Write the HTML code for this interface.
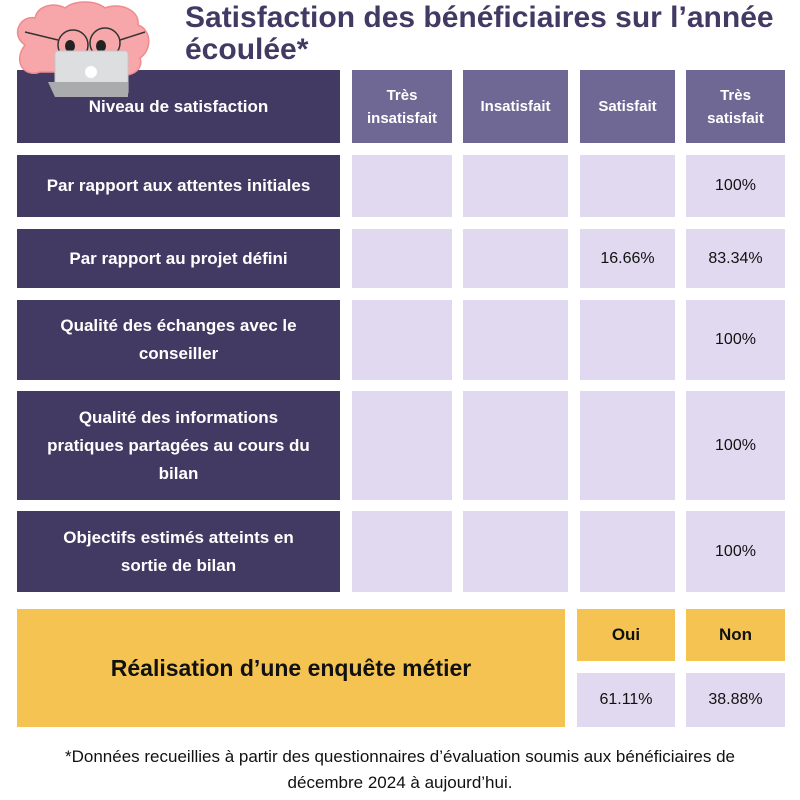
<!DOCTYPE html>
<html><head><meta charset="utf-8"><style>
body{margin:0;width:800px;height:800px;background:#fff;position:relative;overflow:hidden;font-family:"Liberation Sans",sans-serif}
.c{position:absolute;display:flex;align-items:center;justify-content:center;text-align:center;box-sizing:border-box}
.d{background:#433a64;color:#fff;font-weight:bold;font-size:17px;line-height:28px}
.h{background:#6f6794;color:#fff;font-weight:bold;font-size:15px;line-height:23px}
.l{background:#e1d9ef;color:#111;font-size:16px}
.y{background:#f4c352;color:#111;font-weight:bold}
</style></head><body>
<div style="position:absolute;left:185px;top:2px;width:610px;color:#433a64;font-weight:bold;font-size:30px;line-height:32px">Satisfaction des bénéficiaires sur l’année écoulée*</div>

<div class="c d" style="left:17px;top:70px;width:323px;height:73px">Niveau de satisfaction</div>
<div class="c h" style="left:352px;top:70px;width:100px;height:73px">Très<br>insatisfait</div>
<div class="c h" style="left:463px;top:70px;width:105px;height:73px">Insatisfait</div>
<div class="c h" style="left:580px;top:70px;width:95px;height:73px">Satisfait</div>
<div class="c h" style="left:686px;top:70px;width:99px;height:73px">Très<br>satisfait</div>

<svg style="position:absolute;left:0;top:0" width="160" height="110">
<path d="M25,45 C10,35 20,15 35,18 C38,5 55,2 65,8 C75,0 95,0 105,8 C120,2 140,10 138,25 C152,30 152,50 140,58 C145,72 125,80 115,72 L40,72 C25,78 12,62 25,45Z" fill="#f7a7a9" stroke="#f08a8e" stroke-width="1.5"/>
<circle cx="73" cy="45" r="15" fill="none" stroke="#333" stroke-width="1.5"/>
<circle cx="105" cy="43" r="15" fill="none" stroke="#333" stroke-width="1.5"/>
<line x1="58" y1="40" x2="25" y2="32" stroke="#333" stroke-width="1.5"/>
<line x1="120" y1="40" x2="145" y2="32" stroke="#333" stroke-width="1.5"/>
<ellipse cx="70" cy="46" rx="5" ry="6" fill="#222"/>
<ellipse cx="101" cy="46" rx="5" ry="6" fill="#222"/>
<rect x="55" y="51" width="73" height="44" rx="3" fill="#dcdedf" stroke="#c4c6c8"/>
<polygon points="48,82 128,82 128,97 55,97" fill="#a9abad"/>
<circle cx="91" cy="72" r="6" fill="#fff"/>
</svg>

<div class="c d" style="left:17px;top:155px;width:323px;height:62px">Par rapport aux attentes initiales</div>
<div class="c d" style="left:17px;top:229px;width:323px;height:59px">Par rapport au projet défini</div>
<div class="c d" style="left:17px;top:300px;width:323px;height:80px;padding:0 25px">Qualité des échanges avec le conseiller</div>
<div class="c d" style="left:17px;top:391px;width:323px;height:109px;padding:0 8px">Qualité des informations<br>pratiques partagées au cours du<br>bilan</div>
<div class="c d" style="left:17px;top:511px;width:323px;height:81px;padding:0 20px">Objectifs estimés atteints en<br>sortie de bilan</div>

<div class="c l" style="left:352px;top:155px;width:100px;height:62px"></div>
<div class="c l" style="left:463px;top:155px;width:105px;height:62px"></div>
<div class="c l" style="left:580px;top:155px;width:95px;height:62px"></div>
<div class="c l" style="left:686px;top:155px;width:99px;height:62px">100%</div>

<div class="c l" style="left:352px;top:229px;width:100px;height:59px"></div>
<div class="c l" style="left:463px;top:229px;width:105px;height:59px"></div>
<div class="c l" style="left:580px;top:229px;width:95px;height:59px">16.66%</div>
<div class="c l" style="left:686px;top:229px;width:99px;height:59px">83.34%</div>

<div class="c l" style="left:352px;top:300px;width:100px;height:80px"></div>
<div class="c l" style="left:463px;top:300px;width:105px;height:80px"></div>
<div class="c l" style="left:580px;top:300px;width:95px;height:80px"></div>
<div class="c l" style="left:686px;top:300px;width:99px;height:80px">100%</div>

<div class="c l" style="left:352px;top:391px;width:100px;height:109px"></div>
<div class="c l" style="left:463px;top:391px;width:105px;height:109px"></div>
<div class="c l" style="left:580px;top:391px;width:95px;height:109px"></div>
<div class="c l" style="left:686px;top:391px;width:99px;height:109px">100%</div>

<div class="c l" style="left:352px;top:511px;width:100px;height:81px"></div>
<div class="c l" style="left:463px;top:511px;width:105px;height:81px"></div>
<div class="c l" style="left:580px;top:511px;width:95px;height:81px"></div>
<div class="c l" style="left:686px;top:511px;width:99px;height:81px">100%</div>

<div class="c y" style="left:17px;top:609px;width:548px;height:118px;font-size:23px">Réalisation d’une enquête métier</div>
<div class="c y" style="left:577px;top:609px;width:98px;height:52px;font-size:17px">Oui</div>
<div class="c y" style="left:686px;top:609px;width:99px;height:52px;font-size:17px">Non</div>
<div class="c l" style="left:577px;top:673px;width:98px;height:54px">61.11%</div>
<div class="c l" style="left:686px;top:673px;width:99px;height:54px">38.88%</div>

<div style="position:absolute;left:0;top:744px;width:800px;text-align:center;font-size:17px;line-height:26px;color:#111">*Données recueillies à partir des questionnaires d’évaluation soumis aux bénéficiaires de<br>décembre 2024 à aujourd’hui.</div>
</body></html>
